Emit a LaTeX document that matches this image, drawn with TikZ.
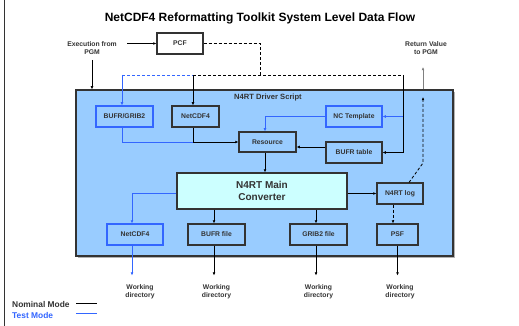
\documentclass[tikz,border=0pt]{standalone}
\usepackage{fontspec}
\setmainfont{Liberation Sans}
\usetikzlibrary{arrows.meta,calc}
\definecolor{bigfill}{HTML}{99CCFF}
\definecolor{mainfill}{HTML}{CCFFFF}
\definecolor{tblue}{HTML}{3366FF}
\definecolor{boxline}{HTML}{333333}
\tikzset{
  lbl/.style={font=\fontsize{6.8}{8}\selectfont\bfseries, text=boxline, align=center, inner sep=0pt},
  boxn/.style={draw=boxline, line width=1.1pt, inner sep=0pt, font=\fontsize{6.8}{8}\selectfont\bfseries, text=boxline},
  bluebox/.style={boxn, draw=tblue},
  conn/.style={line width=0.8pt, draw=black},
  arr/.style={conn, -{Latex[length=3.2pt,width=2.8pt]}},
  dsh/.style={dash pattern=on 3pt off 2pt},
  bl/.style={draw=tblue}
}
\begin{document}
\begin{tikzpicture}[x=1pt,y=-1pt]
\useasboundingbox (0,0) rectangle (519,326);
\fill[white] (0,0) rectangle (519,326);
\draw[line width=1pt, boxline] (4.5,0) -- (4.5,326);
% title
\node[font=\fontsize{12}{14}\selectfont\bfseries, inner sep=0pt] (title) at (260,18) {NetCDF4 Reformatting Toolkit System Level Data Flow};
% big box
\fill[gray!60] (78,92) rectangle (455,258);
\node[draw=boxline, fill=bigfill, line width=1.1pt, minimum width=377pt, minimum height=166pt, inner sep=0pt] (big) at (264.5,173) {};
\node[font=\fontsize{7.6}{9}\selectfont\bfseries, text=boxline, inner sep=0pt] (drv) at (268,98) {N4RT Driver Script};
% top labels
\node[lbl] (exec) at (92,48) {Execution from\\PGM};
\node[lbl] (retval) at (426,48) {Return Value\\to PGM};
\node[boxn, fill=white, minimum width=46pt, minimum height=21pt] (pcf) at (180,43.5) {PCF};
% inner boxes
\node[bluebox, minimum width=57pt, minimum height=21pt] (bufrgrib) at (124.5,116.5) {BUFR/GRIB2};
\node[boxn, minimum width=47pt, minimum height=21pt] (nctop) at (195.5,116.5) {NetCDF4};
\node[boxn, minimum width=57pt, minimum height=20pt] (resource) at (267.5,142) {Resource};
\node[bluebox, minimum width=56pt, minimum height=21pt] (nctemplate) at (354,116.5) {NC Template};
\node[boxn, minimum width=56pt, minimum height=21pt] (bufrtable) at (354,152.5) {BUFR table};
\node[boxn, fill=mainfill, minimum width=170pt, minimum height=36pt, font=\fontsize{10}{12.5}\selectfont\bfseries, align=center] (main) at (262,191) {N4RT Main\\Converter};
\node[boxn, minimum width=46pt, minimum height=21pt] (log) at (400,193.5) {N4RT log};
\node[bluebox, minimum width=56pt, minimum height=21pt] (ncbot) at (135,234.5) {NetCDF4};
\node[boxn, minimum width=57pt, minimum height=21pt] (bufrfile) at (216.5,234.5) {BUFR file};
\node[boxn, minimum width=57pt, minimum height=21pt] (gribfile) at (318.5,234.5) {GRIB2 file};
\node[boxn, minimum width=41pt, minimum height=21pt] (psf) at (397.5,234.5) {PSF};
% working directory labels
\node[lbl] (wd1) at (140,292) {Working\\directory};
\node[lbl] (wd2) at (216.5,292) {Working\\directory};
\node[lbl] (wd3) at (318.5,292) {Working\\directory};
\node[lbl] (wd4) at (400,292) {Working\\directory};
% coordinates
\coordinate (e1) at (127,43.5);
\coordinate (e2) at (92,60);
\coordinate (j1) at (260,75);
\coordinate (j2) at (403,75);
\coordinate (j3) at (193,75);
\coordinate (j4) at (122,75);
\coordinate (j5) at (193,142);
\coordinate (r1) at (423,163);
\coordinate (r2) at (423,97);
\coordinate (r3) at (423,67);
% top connectors
\draw[arr] (e1) -- (pcf.west);
\draw[arr] (e2) -- (e2 |- big.north);
\draw[conn, dsh] (pcf.east) -| (j1);
\draw[conn, dsh] (j3) -- (j2);
\draw[conn, dsh, bl] (j4) -- (j3);
\draw[arr, bl] (j4) -- (j4 |- bufrgrib.north);
\draw[arr] (j3) -- (j3 |- nctop.north);
\draw[arr] (j2) |- (bufrtable.east);
\draw[arr, bl] (j2 |- nctemplate.east) -- (nctemplate.east);
\draw[conn, bl] (j4 |- bufrgrib.south) |- (j5);
\draw[arr] (j3 |- nctop.south) |- (resource.west);
\draw[arr, bl] (nctemplate.west) -| ([xshift=-2.5pt]resource.north);
\draw[arr] ([yshift=5.5pt]bufrtable.west) -- ([yshift=5.5pt]bufrtable.west -| resource.east);
\draw[arr] ([xshift=-2.5pt]resource.south) -- ([xshift=-2.5pt]resource.south |- main.north);
% main outputs
\draw[arr] (main.east |- log.west) -- (log.west);
\draw[arr, bl] (main.west |- log.west) -| ([xshift=-3pt]ncbot.north);
\draw[arr] ([xshift=-2.5pt]bufrfile.north |- main.south) -- ([xshift=-2.5pt]bufrfile.north);
\draw[arr] ([xshift=-2.5pt]gribfile.north |- main.south) -- ([xshift=-2.5pt]gribfile.north);
\draw[arr, dsh] ([xshift=-7pt]log.south) -- ([xshift=-7pt]log.south |- psf.north);
\draw[arr, dsh] ([xshift=9pt]log.north) -- (r1) -- (r2);
\draw[arr, draw=gray] (r2 |- big.north) -- (r3);
% bottom outputs
\draw[arr, bl] ([xshift=-3pt]ncbot.south) -- +(0,30);
\draw[arr] ([xshift=-2.5pt]bufrfile.south) -- +(0,30);
\draw[arr] ([xshift=-2.5pt]gribfile.south) -- +(0,30);
\draw[arr] (psf.south) -- +(0,30);
% legend
\node[font=\fontsize{8.4}{10}\selectfont\bfseries, text=boxline, anchor=west, inner sep=0pt] (nom) at (12,304) {Nominal Mode};
\node[font=\fontsize{8.4}{10}\selectfont\bfseries, text=tblue, anchor=west, inner sep=0pt] (tst) at (12,315) {Test Mode};
\draw[conn] (76,303) -- (97,303);
\draw[conn, bl] (76,313) -- (97,313);
\end{tikzpicture}
\end{document}
